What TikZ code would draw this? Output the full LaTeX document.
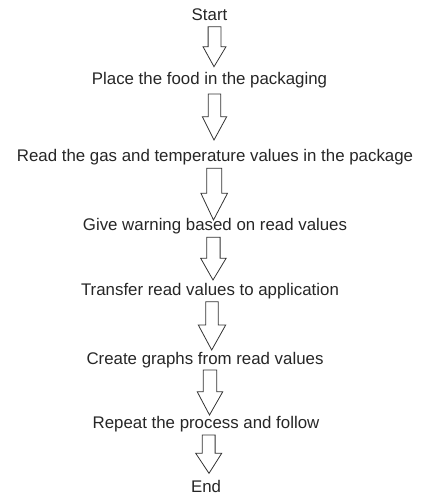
\documentclass[tikz,border=0pt]{standalone}
\usepackage{fontspec}
\setmainfont{Liberation Sans}
\usetikzlibrary{calc}

% hollow block arrow from a tail coordinate to a tip coordinate
% #1 tail, #2 tip, #3 shaft half width, #4 head half width, #5 head length (bp)
\newcommand{\blockarrow}[5]{%
  \draw[blockarrow] let \p1=(#1), \p2=(#2) in
    (\x1-#3bp,\y1) -- (\x1+#3bp,\y1) -- (\x1+#3bp,\y2+#5bp)
    -- (\x1+#4bp,\y2+#5bp) -- (\x2,\y2) -- (\x1-#4bp,\y2+#5bp)
    -- (\x1-#3bp,\y2+#5bp) -- cycle;}

\begin{document}
\begin{tikzpicture}[x=1bp,y=-1bp,
  step label/.style={inner sep=0pt, anchor=base, text=black!85,
    font=\fontsize{16.85bp}{20bp}\selectfont},
  blockarrow/.style={draw=black!80, line width=0.8bp, fill=white, line join=miter}]
\useasboundingbox (0,0) rectangle (421,501);

% process steps
\node[step label] (s0) at (209.5,21)  {Start};
\node[step label] (s1) at (209.5,85)  {Place the food in the packaging};
\node[step label] (s2) at (215,161.5) {Read the gas and temperature values in the package};
\node[step label] (s3) at (215,230)   {Give warning based on read values};
\node[step label] (s4) at (210,295.5) {Transfer read values to application};
\node[step label] (s5) at (205,364)   {Create graphs from read values};
\node[step label] (s6) at (206,428.5) {Repeat the process and follow};
\node[step label] (s7) at (206,492.5) {End};

% tails and tips of the block arrows between the steps
\coordinate (a1t) at (214.5,26.7);  \coordinate (a1h) at (214,66.7);
\coordinate (a2t) at (214.5,94);    \coordinate (a2h) at (214,140);
\coordinate (a3t) at (214.2,168.3); \coordinate (a3h) at (213.5,220);
\coordinate (a4t) at (213.4,237.3); \coordinate (a4h) at (213,280);
\coordinate (a5t) at (212,301.7);   \coordinate (a5h) at (211.7,350);
\coordinate (a6t) at (210,370);     \coordinate (a6h) at (209.5,415);
\coordinate (a7t) at (208.7,435);   \coordinate (a7h) at (209,473.3);

\blockarrow{a1t}{a1h}{6.4}{11.5}{20}
\blockarrow{a2t}{a2h}{6.2}{12.2}{23.3}
\blockarrow{a3t}{a3h}{7.5}{13.3}{26.7}
\blockarrow{a4t}{a4h}{6.7}{12.7}{21.7}
\blockarrow{a5t}{a5h}{6.3}{13.7}{25}
\blockarrow{a6t}{a6h}{6.7}{12.8}{23.3}
\blockarrow{a7t}{a7h}{6.4}{13}{20}
\end{tikzpicture}
\end{document}
